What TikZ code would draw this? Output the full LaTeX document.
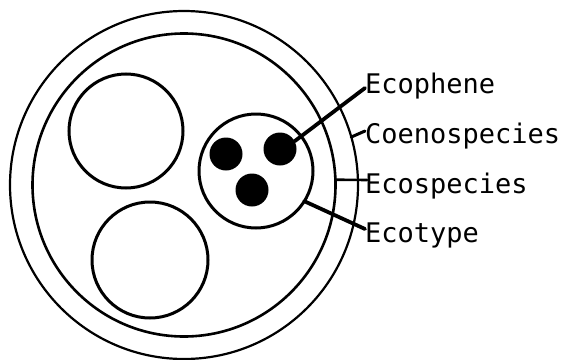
\documentclass[tikz,border=0pt]{standalone}
\usepackage{fontspec}
\newfontfamily\labelfont{DejaVu Sans Mono}
\begin{document}
\begin{tikzpicture}[x=1pt,y=-1pt,
  ring/.style={circle,draw,inner sep=0pt,outer sep=0pt},
  dotc/.style={circle,fill,inner sep=0pt,outer sep=0pt,minimum size=33pt},
  lbl/.style={inner sep=0pt,anchor=base west,font=\labelfont\fontsize{27}{30}\selectfont},
  conn/.style={line cap=round}]
\useasboundingbox (0,0) rectangle (565,359);
\fill[white] (0,0) rectangle (565,359);
% rings
\node[ring,line width=2.2pt,minimum size=348pt] (outer) at (184,185) {};
\node[ring,line width=2.6pt,minimum size=303pt] (inner) at (184,185) {};
\node[ring,line width=3pt,minimum size=114pt] (ul) at (126,131) {};
\node[ring,line width=3pt,minimum size=116pt] (ll) at (150,260) {};
\node[ring,line width=3pt,minimum size=114pt] (rc) at (256,171) {};
% dots
\node[dotc] (d1) at (226,154) {};
\node[dotc] (d2) at (280,149) {};
\node[dotc] (d3) at (252,190) {};
% labels
\node[lbl] (ecophene) at (365,93) {Ecophene};
\node[lbl] (coeno) at (365,143) {Coenospecies};
\node[lbl] (ecosp) at (365,193) {Ecospecies};
\node[lbl] (ecotype) at (365,242) {Ecotype};
% connector ends
\coordinate (cphe) at (365,88);
\coordinate (ccoe) at (365,131);
\coordinate (csp) at (367,180);
\coordinate (cty) at (365,229);
% connectors
\draw[conn,line width=3.8pt] (d2.28) -- (cphe);
\draw[conn,line width=3pt] (outer.16.6) -- (ccoe);
\draw[conn,line width=2.6pt] (inner.2) -- (csp);
\draw[conn,line width=3.8pt] (rc.-32) -- (cty);
\end{tikzpicture}
\end{document}
